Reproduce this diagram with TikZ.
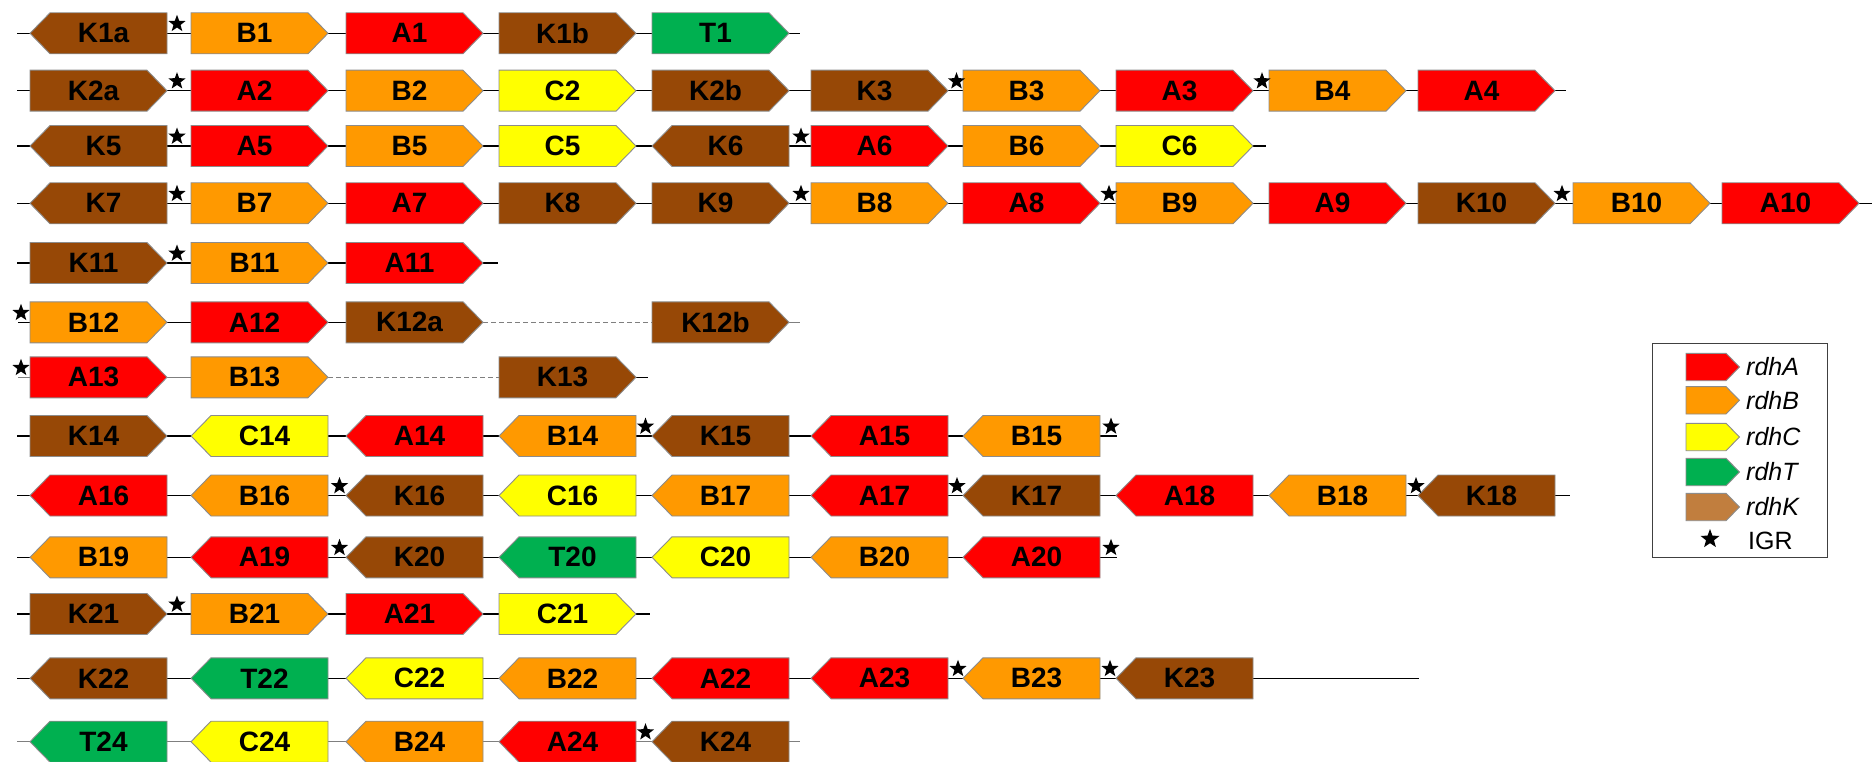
\documentclass[tikz,border=0pt]{standalone}
\usepackage{fontspec}
\setmainfont{Liberation Sans}
\usetikzlibrary{shapes.geometric,backgrounds}
\definecolor{cA}{HTML}{FF0000}
\definecolor{cB}{HTML}{FF9900}
\definecolor{cC}{HTML}{FFFF00}
\definecolor{cT}{HTML}{00B050}
\definecolor{cK}{HTML}{974806}
\definecolor{cKleg}{HTML}{C17E3E}
\definecolor{gout}{HTML}{8C8C8C}
\definecolor{lgray}{HTML}{7F7F7F}
\tikzset{
  genefill/.style={draw=gout, line width=0.9pt, line join=miter},
  genetxt/.style={font=\bfseries\fontsize{28}{30}\selectfont, inner sep=0pt, minimum width=137pt, minimum height=41pt},
  igr/.style={star, star points=5, star point ratio=2.4, fill=black, inner sep=0pt, minimum size=18pt},
  backbone/.style={line width=1.4pt, black},
  backgray/.style={line width=1.4pt, lgray},
  dashline/.style={line width=1.4pt, lgray, dash pattern=on 5pt off 3pt},
  legtxt/.style={font=\itshape\fontsize{25}{27}\selectfont, anchor=west, inner sep=0pt},
}
% right-pointing gene: name, colour, x-left, y
\newcommand\gR[4]{%
  \path[genefill, fill=#2] (#3,#4-20.5) -- ++(117,0) -- ++(20,20.5) -- ++(-20,20.5) -- ++(-117,0) -- cycle;
  \node[genetxt] (#1) at (#3+68.5,#4) {#1\hspace*{10pt}};
}
% left-pointing gene
\newcommand\gL[4]{%
  \path[genefill, fill=#2] (#3,#4) -- ++(20,-20.5) -- ++(117,0) -- ++(0,41) -- ++(-117,0) -- cycle;
  \node[genetxt] (#1) at (#3+68.5,#4) {\hspace*{10pt}#1};
}
\newcommand\igrstar[3]{\node[igr] (#1) at (#2,#3-9.5) {};}
\newcommand\legarrow[4]{%
  \path[genefill, fill=#2] (1686,#3-13.7) -- (1726,#3-13.7) -- (1739.5,#3) -- (1726,#3+13.7) -- (1686,#3+13.7) -- cycle;
  \node[legtxt] (#1) at (1746,#3) {#4};
}
\begin{document}
\begin{tikzpicture}[x=1pt,y=-1pt]
\useasboundingbox (0,0) rectangle (1872,762);

% Row 1
\gL{K1a}{cK}{30}{33.3}
\gR{B1}{cB}{191}{33.3}
\gR{A1}{cA}{346}{33.3}
\gR{K1b}{cK}{499}{33.3}
\gR{T1}{cT}{652}{33.3}
\igrstar{s1a}{177}{33.3}
\coordinate (r1s) at (17,33.3); \coordinate (r1e) at (800,33.3);

% Row 2
\gR{K2a}{cK}{30}{90.7}
\gR{A2}{cA}{191}{90.7}
\gR{B2}{cB}{346}{90.7}
\gR{C2}{cC}{499}{90.7}
\gR{K2b}{cK}{652}{90.7}
\gR{K3}{cK}{811}{90.7}
\gR{B3}{cB}{963}{90.7}
\gR{A3}{cA}{1116}{90.7}
\gR{B4}{cB}{1269}{90.7}
\gR{A4}{cA}{1418}{90.7}
\igrstar{s2a}{177}{90.7}
\igrstar{s2b}{956.5}{90.7}
\igrstar{s2c}{1262}{90.7}
\coordinate (r2s) at (17,90.7); \coordinate (r2e) at (1566,90.7);

% Row 3
\gL{K5}{cK}{30}{146}
\gR{A5}{cA}{191}{146}
\gR{B5}{cB}{346}{146}
\gR{C5}{cC}{499}{146}
\gL{K6}{cK}{652}{146}
\gR{A6}{cA}{811}{146}
\gR{B6}{cB}{963}{146}
\gR{C6}{cC}{1116}{146}
\igrstar{s3a}{177}{146}
\igrstar{s3b}{801}{146}
\coordinate (r3s) at (17,146); \coordinate (r3e) at (1266,146);

% Row 4
\gL{K7}{cK}{30}{203.3}
\gR{B7}{cB}{191}{203.3}
\gR{A7}{cA}{346}{203.3}
\gR{K8}{cK}{499}{203.3}
\gR{K9}{cK}{652}{203.3}
\gR{B8}{cB}{811}{203.3}
\gR{A8}{cA}{963}{203.3}
\gR{B9}{cB}{1116}{203.3}
\gR{A9}{cA}{1269}{203.3}
\gR{K10}{cK}{1418}{203.3}
\gR{B10}{cB}{1573}{203.3}
\gR{A10}{cA}{1722}{203.3}
\igrstar{s4a}{177}{203.3}
\igrstar{s4b}{801}{203.3}
\igrstar{s4c}{1109}{203.3}
\igrstar{s4d}{1562}{203.3}
\coordinate (r4s) at (17,203.3); \coordinate (r4e) at (1872,203.3);

% Row 5
\gR{K11}{cK}{30}{263}
\gR{B11}{cB}{191}{263}
\gR{A11}{cA}{346}{263}
\igrstar{s5a}{177}{263}
\coordinate (r5s) at (17,263); \coordinate (r5e) at (498,263);

% Row 6
\gR{B12}{cB}{30}{322.3}
\gR{A12}{cA}{191}{322.3}
\gR{K12a}{cK}{346}{322.3}
\gR{K12b}{cK}{652}{322.3}
\igrstar{s6a}{21}{322.3}
\coordinate (r6s) at (18,322.3); \coordinate (r6e) at (800,322.3);

% Row 7
\gR{A13}{cA}{30}{377.3}
\gR{B13}{cB}{191}{377.3}
\gR{K13}{cK}{499}{377.3}
\igrstar{s7a}{21}{377.3}
\coordinate (r7s) at (18,377.3); \coordinate (r7e) at (648,377.3);

% Row 8
\gR{K14}{cK}{30}{436}
\gL{C14}{cC}{191}{436}
\gL{A14}{cA}{346}{436}
\gL{B14}{cB}{499}{436}
\gL{K15}{cK}{652}{436}
\gL{A15}{cA}{811}{436}
\gL{B15}{cB}{963}{436}
\igrstar{s8a}{645.5}{436}
\igrstar{s8b}{1111}{436}
\coordinate (r8s) at (17,436); \coordinate (r8e) at (1117,436);

% Row 9
\gL{A16}{cA}{30}{495.5}
\gL{B16}{cB}{191}{495.5}
\gL{K16}{cK}{346}{495.5}
\gL{C16}{cC}{499}{495.5}
\gL{B17}{cB}{652}{495.5}
\gL{A17}{cA}{811}{495.5}
\gL{K17}{cK}{963}{495.5}
\gL{A18}{cA}{1116}{495.5}
\gL{B18}{cB}{1269}{495.5}
\gL{K18}{cK}{1418}{495.5}
\igrstar{s9a}{339.5}{495.5}
\igrstar{s9b}{957}{495.5}
\igrstar{s9c}{1416}{495.5}
\coordinate (r9s) at (17,495.5); \coordinate (r9e) at (1570,495.5);

% Row 10
\gL{B19}{cB}{30}{557.3}
\gL{A19}{cA}{191}{557.3}
\gL{K20}{cK}{346}{557.3}
\gL{T20}{cT}{499}{557.3}
\gL{C20}{cC}{652}{557.3}
\gL{B20}{cB}{811}{557.3}
\gL{A20}{cA}{963}{557.3}
\igrstar{s10a}{339.5}{557.3}
\igrstar{s10b}{1111}{557.3}
\coordinate (r10s) at (17,557.3); \coordinate (r10e) at (1117,557.3);

% Row 11
\gR{K21}{cK}{30}{614}
\gR{B21}{cB}{191}{614}
\gR{A21}{cA}{346}{614}
\gR{C21}{cC}{499}{614}
\igrstar{s11a}{177}{614}
\coordinate (r11s) at (17,614); \coordinate (r11e) at (650,614);

% Row 12
\gL{K22}{cK}{30}{678.3}
\gL{T22}{cT}{191}{678.3}
\gL{C22}{cC}{346}{678.3}
\gL{B22}{cB}{499}{678.3}
\gL{A22}{cA}{652}{678.3}
\gL{A23}{cA}{811}{678.3}
\gL{B23}{cB}{963}{678.3}
\gL{K23}{cK}{1116}{678.3}
\igrstar{s12a}{958}{678.3}
\igrstar{s12b}{1110}{678.3}
\coordinate (r12s) at (17,678.3); \coordinate (r12e) at (1419,678.3);

% Row 13
\gL{T24}{cT}{30}{741.7}
\gL{C24}{cC}{191}{741.7}
\gL{B24}{cB}{346}{741.7}
\gL{A24}{cA}{499}{741.7}
\gL{K24}{cK}{652}{741.7}
\igrstar{s13a}{645.5}{741.7}
\coordinate (r13s) at (17,741.7); \coordinate (r13e) at (800,741.7);

% Legend
\node[draw={rgb,255:red,64;green,64;blue,64}, line width=1pt, minimum width=175pt, minimum height=214.6pt, inner sep=0pt, anchor=north west] (legend) at (1652,342.7) {};
\legarrow{lA}{cA}{367}{rdhA}
\legarrow{lB}{cB}{400.3}{rdhB}
\legarrow{lC}{cC}{437}{rdhC}
\legarrow{lT}{cT}{472}{rdhT}
\legarrow{lK}{cKleg}{507}{rdhK}
\node[igr, minimum size=20pt] (lS) at (1710,539) {};
\node[font=\fontsize{25}{27}\selectfont, anchor=west, inner sep=0pt] (lI) at (1748,540.7) {IGR};

% Backbones
\begin{scope}[on background layer]
\fill[white] (0,0) rectangle (1872,762);
\draw[backbone] (r1s) -- (K1a) -- (B1) -- (A1) -- (K1b) -- (T1) -- (r1e);
\draw[backbone] (r2s) -- (K2a) -- (A2) -- (B2) -- (C2) -- (K2b) -- (K3) -- (B3) -- (A3) -- (B4) -- (A4) -- (r2e);
\draw[backbone] (r3s) -- (K5) -- (A5) -- (B5) -- (C5) -- (K6) -- (A6) -- (B6) -- (C6) -- (r3e);
\draw[backbone] (r4s) -- (K7) -- (B7) -- (A7) -- (K8) -- (K9) -- (B8) -- (A8) -- (B9) -- (A9) -- (K10) -- (B10) -- (A10) -- (r4e);
\draw[backbone] (r5s) -- (K11) -- (B11) -- (A11) -- (r5e);
\draw[backbone] (r6s) -- (B12) -- (A12) -- (K12a);
\draw[dashline] (K12a.east) -- (K12b.west);
\draw[backgray] (K12b) -- (r6e);
\draw[backgray] (r7s) -- (A13) -- (B13.east);
\draw[dashline] (B13.east) -- (K13.west);
\draw[backbone] (K13) -- (r7e);
\draw[backbone] (r8s) -- (K14) -- (C14) -- (A14) -- (B14) -- (K15) -- (A15) -- (B15) -- (r8e);
\draw[backbone] (r9s) -- (A16) -- (B16) -- (K16) -- (C16) -- (B17) -- (A17) -- (K17) -- (A18) -- (B18) -- (K18) -- (r9e);
\draw[backbone] (r10s) -- (B19) -- (A19) -- (K20) -- (T20) -- (C20) -- (B20) -- (A20) -- (r10e);
\draw[backbone] (r11s) -- (K21) -- (B21) -- (A21) -- (C21) -- (r11e);
\draw[backbone] (r12s) -- (K22) -- (T22) -- (C22) -- (B22) -- (A22) -- (A23) -- (B23) -- (K23) -- (r12e);
\draw[backgray] (r13s) -- (T24) -- (C24) -- (B24) -- (A24) -- (K24) -- (r13e);
\end{scope}
\end{tikzpicture}
\end{document}
